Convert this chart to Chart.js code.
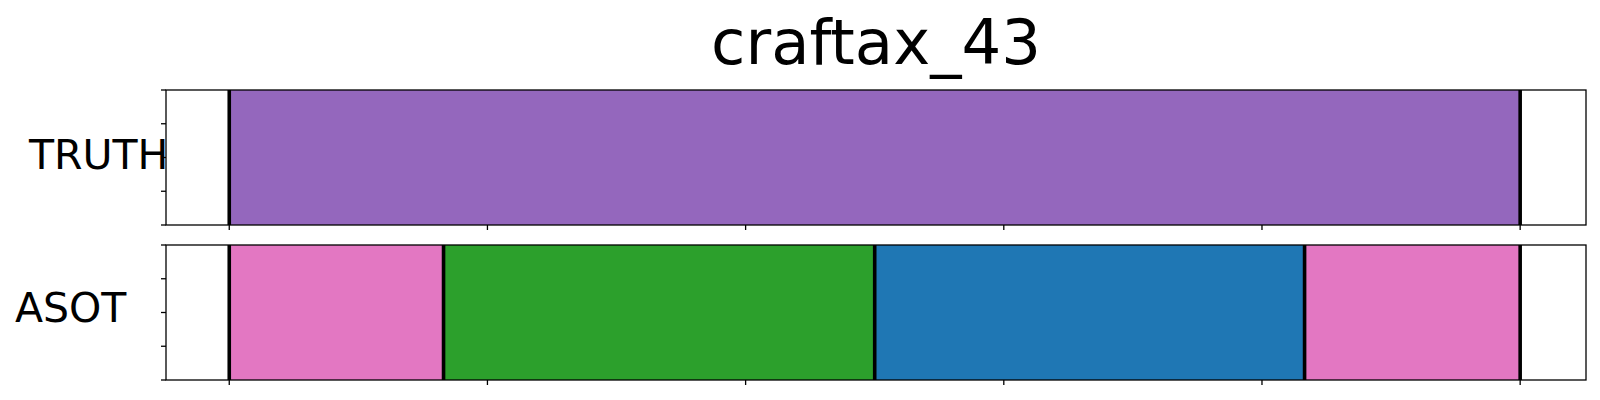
<!DOCTYPE html>
<html><head><meta charset="utf-8">
<script src="https://cdn.jsdelivr.net/npm/chart.js@4/dist/chart.umd.min.js"></script>
<style>
body{margin:0;background:#fff}
#wrap{position:relative;width:1600px;height:400px;font-family:'DejaVu Sans',sans-serif;background:#fff}
canvas{position:absolute;left:0}
.lbl{position:absolute;line-height:1;white-space:nowrap;color:#000}
</style>
</head><body>
<div id="wrap">
<div class="lbl" id="title" style="font-size:62.5px;top:12px;left:0;width:1752px;text-align:center"></div>
<div class="lbl" id="lab0" style="font-size:41px;top:135px;left:29px"></div>
<div class="lbl" id="lab1" style="font-size:41px;top:288px;left:15px"></div>
<canvas id="c0" width="1600" height="240" style="top:0"></canvas>
<canvas id="c1" width="1600" height="160" style="top:240px"></canvas>
</div>
<script>
const titleText = 'craftax_43';
const rowLabels = ['TRUTH', 'ASOT'];
const truthBounds = [0, 100];
const truthColors = ['#9467bd'];
const asotBounds = [0, 16.6, 50, 83.3, 100];
const asotColors = ['#e377c2', '#2ca02c', '#1f77b4', '#e377c2'];
const xTicks = [0, 20, 40, 60, 80, 100];
const yTicks = [0, 0.25, 0.5, 0.75, 1];

document.getElementById('title').textContent = titleText;
document.getElementById('lab0').textContent = rowLabels[0];
document.getElementById('lab1').textContent = rowLabels[1];

const framePlugin = {
  id: 'frame',
  afterDatasetsDraw(chart, args, opts) {
    const {ctx, chartArea: a, scales} = chart;
    const x = scales.x, yt = scales.yt;
    ctx.save();
    ctx.strokeStyle = '#000';
    const line = (x1, y1, x2, y2) => { ctx.beginPath(); ctx.moveTo(x1, y1); ctx.lineTo(x2, y2); ctx.stroke(); };
    ctx.lineWidth = 3.6;
    opts.bounds.forEach(b => { const px = x.getPixelForValue(b); line(px, a.top, px, a.bottom); });
    ctx.lineWidth = 1.3;
    ctx.strokeRect(a.left, a.top, a.right - a.left, a.bottom - a.top);
    xTicks.forEach(v => { const px = x.getPixelForValue(v); line(px, a.bottom, px, a.bottom + 5); });
    yTicks.forEach(v => { const py = yt.getPixelForValue(v); line(a.left - 5, py, a.left, py); });
    ctx.restore();
  }
};

function makeChart(id, label, bounds, colors, padding) {
  const datasets = colors.map((c, i) => ({
    data: [[bounds[i], bounds[i + 1]]],
    backgroundColor: c,
    borderWidth: 0,
    grouped: false,
    barPercentage: 1,
    categoryPercentage: 1
  }));
  return new Chart(document.getElementById(id), {
    type: 'bar',
    data: { labels: [label], datasets },
    options: {
      indexAxis: 'y',
      responsive: false,
      animation: false,
      devicePixelRatio: 1,
      layout: { padding },
      scales: {
        x: { type: 'linear', min: -4.9, max: 105.1, display: false, offset: false },
        y: { type: 'category', offset: true, display: false },
        yt: { type: 'linear', axis: 'y', position: 'left', min: 0, max: 1, display: false, offset: false, grace: 0 }
      },
      plugins: { legend: { display: false }, tooltip: { enabled: false }, frame: { bounds } }
    },
    plugins: [framePlugin]
  });
}

makeChart('c0', rowLabels[0], truthBounds, truthColors, { left: 166, right: 14, top: 90, bottom: 15 });
makeChart('c1', rowLabels[1], asotBounds, asotColors, { left: 166, right: 14, top: 5, bottom: 20 });
</script>
</body></html>
